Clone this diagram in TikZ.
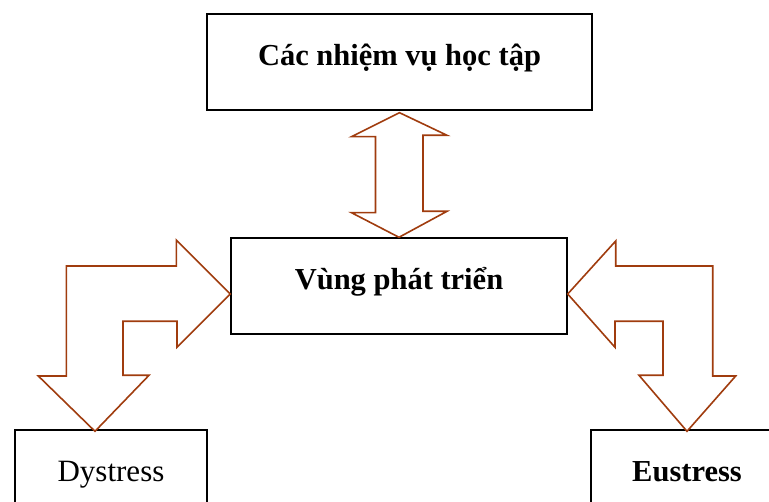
\documentclass[tikz,border=0pt]{standalone}
\usepackage{fontspec}
\setmainfont{Liberation Serif}
\usetikzlibrary{calc}
\definecolor{arrbrown}{RGB}{160,60,14}

\begin{document}
\begin{tikzpicture}
		[x=1pt,y=-1pt,
		 box/.style= {draw=black,line width=1.4pt,rectangle,inner sep=0pt,
		 	text height=14pt,text depth=6pt,font=\fontsize{30.5}{36}\selectfont\bfseries},
		 blk/.style= {draw=arrbrown,line width=1.6pt,line join=miter,fill=white}]

		\path[use as bounding box,clip] (0,0) rectangle (769,502);

		\node[box,minimum width=385pt,minimum height=96pt] (tasks) at (399.5,62) {Các nhiệm vụ học tập}
		;

		\node[box,minimum width=336pt,minimum height=96pt] (zone) at (399,286) {Vùng phát triển}
		;

		\node[box,minimum width=192pt,minimum height=96pt,font=\fontsize{31}{36}\selectfont] (dys) at (111,478) {Dystress}
		;

		\node[box,minimum width=192pt,minimum height=96pt] (eus) at (687,478) {Eustress}
		;

		% double arrow between tasks and zone
		\draw[blk] ($(tasks.south)+(0,2)$) -- ++(-48,24) -- ++(24,0) -- ++(0,76)
			-- ++(-24,0) -- (zone.north) -- ++(48,-26) -- ++(-24,0) -- ++(0,-76)
			-- ++(24,0) -- cycle;

		% bent arrow zone <-> dystress
		\draw[blk] ($(zone.west)+(0,8)$) -- ++(-54,-54) -- ++(0,26) -- ++(-110,0)
			-- ++(0,110) -- ++(-28,0) -- ($(dys.north)+(-16,2)$) -- ++(54,-56)
			-- ++(-26,0) -- ++(0,-54) -- ++(54,0) -- ++(0,26) -- cycle;

		% bent arrow zone <-> eustress
		\draw[blk] ($(zone.east)+(0,8)$) -- ++(48,-53) -- ++(0,25) -- ++(97,0)
			-- ++(0,110) -- ++(23,0) -- ($(eus.north)+(0,2)$) -- ++(-48,-56)
			-- ++(24,0) -- ++(0,-54) -- ++(-48,0) -- ++(0,26) -- cycle;

	\end{tikzpicture}
\end{document}
